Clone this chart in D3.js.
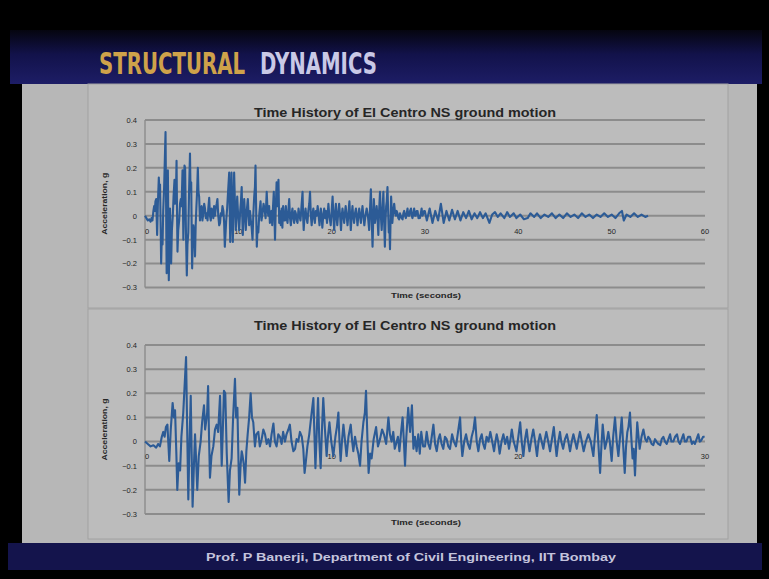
<!DOCTYPE html>
<html>
<head>
<meta charset="utf-8">
<script src="https://cdn.jsdelivr.net/npm/d3@7"></script>
<style>
  html, body { margin: 0; padding: 0; background: #000; }
  svg { display: block; font-family: "Liberation Sans", Arial, sans-serif; }
</style>
</head>
<body>
<div id="slide"></div>
<script>
// Ground acceleration (g), as [time s, accel g].
var strongPhase = [
  [0,0],[0.15,-0.01],[0.3,-0.02],[0.45,-0.015],[0.6,-0.025],[0.7,-0.01],[0.8,-0.02],[0.9,0.02],
  [0.98,0.04],[1.05,0.02],[1.12,0.06],[1.2,0.07],[1.3,-0.08],[1.38,0.05],[1.48,0.16],[1.55,0.1],
  [1.61,0.13],[1.68,-0.05],[1.73,-0.2],[1.8,-0.09],[1.88,-0.12],[1.95,0.02],[2.05,0.12],[2.2,0.35],
  [2.26,0.05],[2.32,-0.24],[2.38,-0.02],[2.45,0.19],[2.5,-0.05],[2.55,-0.27],[2.62,-0.1],[2.68,0.03],
  [2.74,-0.08],[2.8,-0.2],[2.88,-0.06],[2.98,0],[3.06,0.08],[3.16,0.15],[3.22,0.05],[3.27,0.08],
  [3.33,0.12],[3.38,0.23],[3.43,0.02],[3.48,-0.15],[3.56,-0.06],[3.66,-0.02],[3.75,0.05],[3.84,0.07],
  [3.92,0.04],[4.02,0.19],[4.07,0.03],[4.11,-0.1],[4.17,0.05],[4.23,0.21],[4.3,0.2],[4.38,-0.05],
  [4.48,-0.25],[4.55,-0.12],[4.64,-0.07],[4.72,0.1],[4.82,0.26],[4.88,0.1],[4.95,0.14],[5.0,-0.05],
  [5.05,-0.22],[5.12,-0.1],[5.18,-0.04],[5.23,-0.06],[5.3,-0.1],[5.36,-0.17],[5.43,-0.04],[5.5,0.03],
  [5.58,0.1],[5.66,0.2],[5.73,0.1],[5.8,0.08],[5.89,-0.02],[5.96,0.03]
];
var middlePhase = [
  [6.07,0.04],[6.15,-0.02],[6.25,0.01],[6.34,0.05],[6.43,0.03],[6.52,-0.01],[6.61,0.01],[6.7,-0.02],
  [6.78,0.03],[6.88,0.075],[6.96,0],[7.05,-0.02],[7.14,0.03],[7.23,0.02],[7.32,-0.01],[7.4,0.04],
  [7.5,0],[7.58,0.03],[7.68,0.05],[7.76,0.07],[7.85,0],[7.95,-0.04],[8.04,-0.03],[8.12,0.01],
  [8.21,0],[8.3,0.04],[8.4,0.02],[8.48,-0.03],[8.55,-0.13],[8.62,-0.08],[8.7,-0.02],[8.8,0.03],
  [8.9,0.1],[9.02,0.18],[9.08,0.02],[9.13,-0.11],[9.2,0.04],[9.27,0.18],[9.34,0],[9.41,-0.11],
  [9.48,0.05],[9.55,0.18],[9.64,0.05],[9.73,-0.06],[9.8,0.02],[9.88,0.08],[9.98,0],[10.09,-0.06],
  [10.2,0.02],[10.28,0.06],[10.36,0.12],[10.42,0],[10.48,-0.08],[10.56,0.01],[10.63,0.07],[10.72,0],
  [10.8,-0.06],[10.9,0.02],[11.02,0.07],[11.1,0],[11.16,-0.04],[11.25,0.02],[11.34,-0.02],[11.43,-0.05],
  [11.52,-0.1],[11.6,0],[11.7,0.08],[11.78,0.12],[11.84,0.21],[11.92,0],[11.98,-0.13],[12.06,-0.05],
  [12.14,-0.07],[12.25,0.01],[12.38,0.06],[12.48,-0.02],[12.59,0.01],[12.7,0.05],[12.8,0.03],[12.92,-0.01],
  [13.04,0.1],[13.12,0.03],[13.21,0],[13.3,0.04],[13.38,-0.03],[13.45,-0.01],[13.55,0.02],[13.63,-0.04],
  [13.72,0.04],[13.8,0.1],[13.87,0],[13.93,-0.1],[14.0,0.02],[14.1,0.14],[14.2,0.04],[14.3,0.15],
  [14.38,-0.03],[14.46,0.02],[14.55,-0.04],[14.64,0.03],[14.72,-0.05],[14.8,0.04],[14.9,-0.02]
];
var laterPhase = [
  [15.0,-0.02],[15.09,0.04],[15.18,-0.01],[15.27,-0.03],[15.36,0.02],[15.45,0.07],[15.54,-0.01],[15.63,-0.04],
  [15.72,0.01],[15.8,0.03],[15.89,-0.01],[15.98,-0.03],[16.07,0.02],[16.16,0.01],[16.25,-0.02],[16.34,-0.03],
  [16.45,0.03],[16.55,0],[16.66,-0.02],[16.77,0.04],[16.88,0.1],[16.94,0],[17.0,-0.06],[17.1,0],
  [17.2,0.03],[17.3,-0.01],[17.4,-0.03],[17.5,0.02],[17.6,0.05],[17.68,0.1],[17.77,0],[17.86,-0.04],
  [17.95,0.01],[18.04,0.03],[18.12,-0.01],[18.2,-0.03],[18.3,0.02],[18.4,0],[18.5,0.04],[18.6,0],
  [18.7,-0.04],[18.77,0],[18.84,0.03],[18.92,0],[19.0,-0.05],[19.1,0],[19.2,0.03],[19.3,-0.01],
  [19.4,0.02],[19.5,-0.03],[19.58,0.01],[19.65,0.05],[19.75,0],[19.9,-0.04],[20.0,0.02],[20.1,0.08],
  [20.18,0],[20.27,-0.06],[20.36,0.01],[20.45,0.05],[20.52,0],[20.6,-0.04],[20.7,0.01],[20.8,0.05],
  [20.9,0],[21.0,-0.06],[21.08,0],[21.16,0.03],[21.25,0],[21.34,-0.03],[21.42,0.01],[21.5,0.04],
  [21.6,0],[21.7,-0.04],[21.8,0.01],[21.9,0.06],[21.97,0],[22.05,-0.06],[22.14,0],[22.23,0.04],
  [22.3,0],[22.4,-0.03],[22.5,0.01],[22.6,0.03],[22.68,0],[22.77,-0.04],[22.86,0],[22.95,0.03],
  [23.04,0],[23.13,-0.03],[23.22,0.01],[23.3,0.04],[23.4,0],[23.5,-0.04],[23.62,0],[23.75,0.03],
  [23.88,0],[24.02,-0.06],[24.1,0.02],[24.2,0.11],[24.28,0],[24.38,-0.13],[24.45,-0.02],[24.52,0.07],
  [24.58,0.02],[24.64,-0.03],[24.73,0],[24.82,0.04],[24.9,0],[25.0,-0.08],[25.08,0.02],[25.18,0.1],
  [25.27,0],[25.36,-0.06],[25.45,0.02],[25.54,0.1],[25.62,-0.02],[25.7,-0.13],[25.77,-0.02],[25.84,0.04],
  [25.9,0.06],[25.98,0.12],[26.05,0.02],[26.12,-0.07],[26.18,-0.03],[26.25,-0.14],[26.31,-0.02],[26.37,0.08],
  [26.44,0.02],[26.5,-0.03],[26.6,0.02],[26.7,0.05],[26.8,0.01],[26.88,0],[26.96,0.02],[27.05,0.01],
  [27.14,-0.01],[27.23,-0.015],[27.32,0.01],[27.4,0],[27.5,-0.01],[27.6,-0.015],[27.68,0.01],[27.77,0.02],
  [27.86,0],[27.95,-0.01],[28.04,0.01],[28.13,0.03],[28.2,0],[28.3,0],[28.4,0.02],[28.5,0.03],
  [28.58,0],[28.66,-0.01],[28.75,0.01],[28.84,0.03],[28.92,0],[29.0,0],[29.1,0.02],[29.2,0.02],
  [29.3,-0.01],[29.38,0],[29.46,-0.01],[29.55,0.01],[29.64,0.03],[29.72,0],[29.8,0.005],[29.9,0.02],
  [29.98,0.02]
];
var tailPhase = [
  [30.2,-0.02],[30.5,0.03],[30.8,-0.03],[31.1,0.02],[31.4,-0.02],[31.7,0.05],[32.0,-0.03],[32.3,0.02],
  [32.6,-0.02],[32.9,0.025],[33.2,-0.015],[33.5,0.02],[33.8,-0.02],[34.1,0.015],[34.4,-0.01],[34.7,0.02],
  [35.0,-0.015],[35.3,0.01],[35.6,-0.01],[35.9,0.015],[36.2,-0.01],[36.5,0.01],[36.9,-0.03],[37.2,0.005],
  [37.5,0.015],[37.8,-0.005],[38.1,0.01],[38.5,-0.01],[38.8,0.015],[39.1,-0.005],[39.5,0.01],[39.8,-0.01],
  [40.2,0.005],[40.6,-0.015],[41.0,-0.01],[41.3,0.01],[41.7,-0.005],[42.0,0.01],[42.4,-0.01],[42.8,0.005],
  [43.2,-0.005],[43.6,0.01],[44.0,-0.01],[44.4,0.005],[44.8,-0.01],[45.2,0.01],[45.6,-0.005],[46.0,0.005],
  [46.4,-0.01],[46.8,0.01],[47.2,-0.005],[47.6,0.005],[48.0,-0.01],[48.4,0.005],[48.8,-0.005],[49.2,0.01],
  [49.6,-0.005],[50.0,0.005],[50.4,-0.01],[50.8,0.01],[51.1,0.02],[51.3,-0.02],[51.6,0.005],[52.0,-0.005],
  [52.4,0.01],[52.8,-0.005],[53.2,0.005],[53.6,-0.005],[53.9,0]
];

var yTicks = [-0.3, -0.2, -0.1, 0, 0.1, 0.2, 0.3, 0.4];
var xTicksFull = [0, 10, 20, 30, 40, 50, 60];
var xTicksZoom = [0, 10, 20, 30];

var chartTitle = 'Time History of El Centro NS ground motion';
var yLabel = 'Acceleration, g';
var xLabel = 'Time (seconds)';

var W = 769, H = 579;
var LINE_COLOR = '#2c5b96';
var GRID_COLOR = '#8c8c8c';
var TEXT_COLOR = '#262626';

function main() {
  var record = strongPhase.concat(middlePhase, laterPhase, tailPhase);

  var svg = d3.select('#slide').append('svg')
    .attr('width', W)
    .attr('height', H);

  var defs = svg.append('defs');
  var band = defs.append('linearGradient').attr('id', 'band')
    .attr('x1', 0).attr('y1', 0).attr('x2', 0).attr('y2', 1);
  band.append('stop').attr('offset', '0%').attr('stop-color', '#05050f');
  band.append('stop').attr('offset', '45%').attr('stop-color', '#12124a');
  band.append('stop').attr('offset', '100%').attr('stop-color', '#1d1d66');

  // Slide frame.
  svg.append('rect').attr('width', W).attr('height', H).attr('fill', '#000');
  svg.append('rect').attr('x', 10).attr('y', 30).attr('width', 752).attr('height', 54)
    .attr('fill', 'url(#band)');
  svg.append('rect').attr('x', 22).attr('y', 84).attr('width', 735).attr('height', 460)
    .attr('fill', '#b7b7b7');
  svg.append('rect').attr('x', 8).attr('y', 543).attr('width', 754).attr('height', 27)
    .attr('fill', '#14144c');

  // Slide heading, two colours; tall narrow letters via a vertical stretch.
  svg.append('text')
    .attr('transform', 'translate(99,74) scale(1,1.6)')
    .attr('font-family', '"DejaVu Sans", sans-serif')
    .attr('font-weight', 'bold').attr('font-size', 19)
    .attr('fill', '#cfa24a')
    .attr('textLength', 146).attr('lengthAdjust', 'spacingAndGlyphs')
    .text('STRUCTURAL');
  svg.append('text')
    .attr('transform', 'translate(260,74) scale(1,1.6)')
    .attr('font-family', '"DejaVu Sans", sans-serif')
    .attr('font-weight', 'bold').attr('font-size', 19)
    .attr('fill', '#c9c9e6')
    .attr('textLength', 117).attr('lengthAdjust', 'spacingAndGlyphs')
    .text('DYNAMICS');

  svg.append('text')
    .attr('x', 411).attr('y', 561)
    .attr('text-anchor', 'middle')
    .attr('fill', '#c4c4dc')
    .attr('font-weight', 'bold')
    .attr('font-size', 11)
    .attr('textLength', 410).attr('lengthAdjust', 'spacingAndGlyphs')
    .text('Prof. P Banerji, Department of Civil Engineering, IIT Bombay');

  // Chart boxes.
  svg.append('rect').attr('x', 88).attr('y', 84).attr('width', 640).attr('height', 224)
    .attr('fill', '#bcbcbc').attr('stroke', '#a2a2a2');
  svg.append('rect').attr('x', 88).attr('y', 309).attr('width', 640).attr('height', 230)
    .attr('fill', '#bcbcbc').attr('stroke', '#a2a2a2');

  drawChart(svg, {
    data: record,
    xDomain: [0, 60],
    xTicks: xTicksFull,
    top: 120, bottom: 287.5,
    titleY: 117, xLabelY: 298, xTickY: 234
  });
  drawChart(svg, {
    data: record.filter(function(d) { return d[0] <= 30; }),
    xDomain: [0, 30],
    xTicks: xTicksZoom,
    top: 345, bottom: 514,
    titleY: 330, xLabelY: 525, xTickY: 459
  });
}

function drawChart(svg, opt) {
  var x = d3.scaleLinear().domain(opt.xDomain).range([145, 705]);
  var y = d3.scaleLinear().domain([-0.3, 0.4]).range([opt.bottom, opt.top]);
  var g = svg.append('g');

  g.selectAll('.grid')
    .data(yTicks)
  .enter().append('line')
    .attr('x1', 145).attr('x2', 705)
    .attr('y1', function(d) { return y(d); })
    .attr('y2', function(d) { return y(d); })
    .attr('stroke', GRID_COLOR)
    .attr('stroke-width', 2);

  g.append('line')
    .attr('x1', 145).attr('x2', 145)
    .attr('y1', opt.top).attr('y2', opt.bottom)
    .attr('stroke', GRID_COLOR).attr('stroke-width', 1.4);

  var yAxis = d3.axisLeft(y).tickValues(yTicks).tickSize(0).tickPadding(8)
    .tickFormat(function(d) { return d === 0 ? '0' : d3.format('.1f')(d); });
  var ya = g.append('g').attr('transform', 'translate(145,0)').call(yAxis);
  ya.select('.domain').remove();
  ya.selectAll('text').attr('fill', TEXT_COLOR).attr('font-size', 7.5)
    .attr('font-family', '"Liberation Sans", Arial, sans-serif');

  // Category labels sit next to the zero line, as in the spreadsheet chart.
  g.selectAll('.xt')
    .data(opt.xTicks)
  .enter().append('text')
    .attr('x', function(d) { return x(d) + (d === 0 ? 2 : 0); })
    .attr('y', opt.xTickY)
    .attr('text-anchor', 'middle')
    .attr('fill', TEXT_COLOR)
    .attr('font-size', 7.5)
    .text(function(d) { return d; });

  var line = d3.line()
    .x(function(d) { return x(d[0]); })
    .y(function(d) { return y(d[1]); });
  g.append('path')
    .datum(opt.data)
    .attr('d', line)
    .attr('fill', 'none')
    .attr('stroke', LINE_COLOR)
    .attr('stroke-width', 2.1)
    .attr('stroke-linejoin', 'round');

  g.append('text')
    .attr('x', 405).attr('y', opt.titleY)
    .attr('text-anchor', 'middle')
    .attr('fill', TEXT_COLOR)
    .attr('font-weight', 'bold')
    .attr('font-size', 12.5)
    .attr('textLength', 302).attr('lengthAdjust', 'spacingAndGlyphs')
    .text(chartTitle);

  g.append('text')
    .attr('x', 426).attr('y', opt.xLabelY)
    .attr('text-anchor', 'middle')
    .attr('fill', TEXT_COLOR)
    .attr('font-weight', 'bold')
    .attr('font-size', 8)
    .attr('textLength', 70).attr('lengthAdjust', 'spacingAndGlyphs')
    .text(xLabel);

  g.append('text')
    .attr('transform', 'translate(107,' + ((opt.top + opt.bottom) / 2) + ') rotate(-90)')
    .attr('text-anchor', 'middle')
    .attr('fill', TEXT_COLOR)
    .attr('font-weight', 'bold')
    .attr('font-size', 8)
    .attr('textLength', 62).attr('lengthAdjust', 'spacingAndGlyphs')
    .text(yLabel);
}

main();
</script>
</body>
</html>
